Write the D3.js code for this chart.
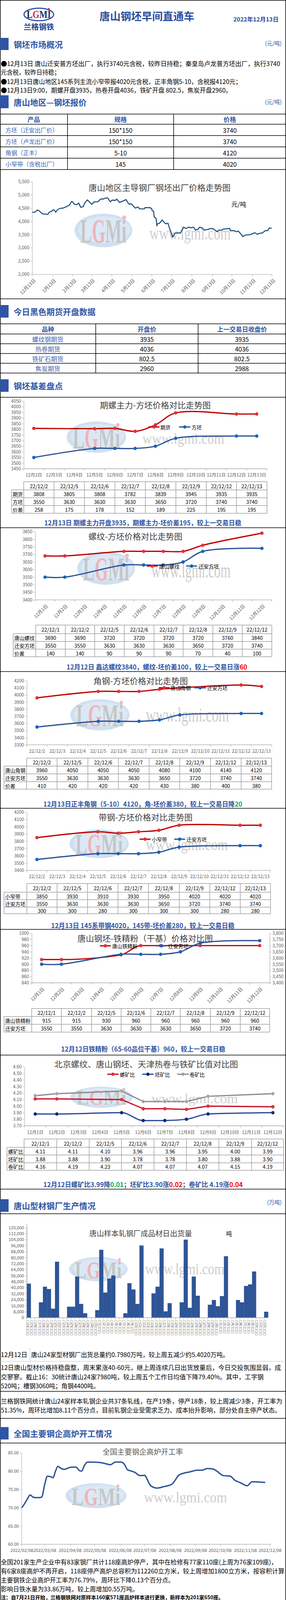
<!DOCTYPE html>
<html><head><meta charset="utf-8">
<script src="https://cdn.jsdelivr.net/npm/d3@7"></script>
<style>body{margin:0;background:#fff}svg{display:block}</style>
</head><body>
<script>
// ================= DATA =================
const reportDate = "2022年12月13日";
const bullets = [
 "●12月13日 唐山迁安普方坯出厂，执行3740元含税，较昨日持稳；秦皇岛卢龙普方坯出厂，执行3740",
 "元含税，较昨日持稳；",
 "●12月13日唐山地区145系列主流小窄带报4020元含税，正丰角钢5-10，含税报4120元；",
 "●12月13日9:00，期螺开盘3935，热卷开盘4036，铁矿开盘 802.5，焦炭开盘2960。"];
const quoteHeader = ["产品","规格","价格"];
const quoteProducts = ["方坯（迁安出厂价）","方坯（卢龙出厂价）","角钢（正丰）","小窄带（含税出厂）"];
const quoteSpecs = ["150*150","150*150","5-10","145"];
const quotePrices = [3740,3740,4120,4020];

const trendTicks = ["2021-12-13","2022-01-13","2022-02-13","2022-03-13","2022-04-13","2022-05-13","2022-06-13","2022-07-13","2022-08-13","2022-09-13","2022-10-13","2022-11-13","2022-12-13"];
const trendDates = [
"2021-12-13","2021-12-17","2021-12-20","2021-12-21","2021-12-24","2021-12-27","2021-12-29",
"2022-01-04","2022-01-06","2022-01-08","2022-01-12","2022-01-14","2022-01-16","2022-01-18","2022-01-21","2022-01-25","2022-01-29",
"2022-02-02","2022-02-08","2022-02-11","2022-02-13","2022-02-15","2022-02-19","2022-02-22","2022-02-25",
"2022-03-01","2022-03-03","2022-03-07","2022-03-10","2022-03-14","2022-03-17","2022-03-23","2022-03-26","2022-03-28",
"2022-04-01","2022-04-03","2022-04-07","2022-04-11","2022-04-14","2022-04-17","2022-04-18","2022-04-21","2022-04-25","2022-04-29",
"2022-05-05","2022-05-08","2022-05-10","2022-05-13","2022-05-19","2022-05-23","2022-05-26",
"2022-06-02","2022-06-03","2022-06-07","2022-06-10","2022-06-13","2022-06-14","2022-06-16","2022-06-17","2022-06-20","2022-06-21","2022-06-22","2022-06-25","2022-06-29",
"2022-07-04","2022-07-08","2022-07-10","2022-07-13","2022-07-15","2022-07-19","2022-07-27","2022-07-30",
"2022-08-01","2022-08-04","2022-08-09","2022-08-12","2022-08-16","2022-08-19","2022-08-23","2022-08-25","2022-08-29",
"2022-09-01","2022-09-07","2022-09-11","2022-09-15","2022-09-21","2022-09-23","2022-09-28","2022-09-30",
"2022-10-10","2022-10-11","2022-10-17","2022-10-20","2022-10-23","2022-10-27","2022-10-30",
"2022-11-01","2022-11-04","2022-11-10","2022-11-14","2022-11-17","2022-11-21","2022-11-25","2022-11-29",
"2022-12-01","2022-12-03","2022-12-07","2022-12-09","2022-12-13"];
const trendVals = [
4340,4345,4400,4430,4390,4320,4280,
4270,4260,4345,4380,4440,4420,4345,4450,4490,4500,
4540,4615,4750,4730,4650,4630,4690,4530,
4555,4690,4810,4740,4640,4730,4740,4810,4845,
4845,4875,4885,4740,4800,4800,4780,4840,4715,4750,
4820,4700,4640,4665,4500,4540,4470,
4470,4520,4515,4520,4485,4395,4380,4170,4100,3830,3910,3925,4050,
3910,3925,3755,3560,3400,3560,3560,3705,
3780,3730,3780,3755,3780,3665,3705,3780,3745,
3665,3695,3730,3715,3605,3665,3665,3705,
3730,3645,3645,3605,3630,3520,3420,
3460,3485,3495,3535,3570,3510,3550,3560,
3605,3645,3655,3745,3740];
const trendYTicks = [2000,2500,3000,3500,4000,4500,5000,5500];

const futHeader = ["品种","开盘价","上一交易日收盘价"];
const futNames = ["螺纹钢期货","热卷期货","铁矿石期货","焦炭期货"];
const futOpen = ["3935","4036","802.5","2960"];
const futPrevClose = ["3935","4036","802.5","2988"];

// chart 2: 期螺主力-方坯
const basisCats = ["12月2日","12月3日","12月4日","12月5日","12月6日","12月7日","12月8日","12月9日","12月10日","12月11日","12月12日","12月13日"];
const basisDates = ["12月2日","12月5日","12月6日","12月7日","12月8日","12月9日","12月12日","12月13日"];
const basisHeader = ["22/12/2","22/12/5","22/12/6","22/12/7","22/12/8","22/12/9","22/12/12","22/12/13"];
const basisFutures = [3808,3805,3808,3782,3839,3945,3935,3935];
const basisBillet = [3550,3630,3630,3630,3650,3720,3740,3740];
const basisSpread = [258,175,178,152,189,225,195,195];
const basisYTicks = [3450,3500,3550,3600,3650,3700,3750,3800,3850,3900,3950,4000,4050];

// chart 3: 螺纹-方坯
const rebarCats = ["12月1日","12月2日","12月3日","12月4日","12月5日","12月6日","12月7日","12月8日","12月9日","12月10日","12月11日","12月12日"];
const rebarDates = ["12月1日","12月2日","12月5日","12月6日","12月7日","12月8日","12月9日","12月12日"];
const rebarHeader = ["22/12/1","22/12/2","22/12/5","22/12/6","22/12/7","22/12/8","22/12/9","22/12/12"];
const rebarVals = [3690,3690,3720,3720,3720,3720,3760,3840];
const rebarBillet = [3550,3550,3630,3630,3630,3650,3720,3740];
const rebarSpread = [140,140,90,90,90,70,40,100];
const rebarYTicks = [3400,3450,3500,3550,3600,3650,3700,3750,3800,3850];

// chart 4: 角钢-方坯
const angleCats = ["22/12/2","22/12/3","22/12/4","22/12/5","22/12/6","22/12/7","22/12/8","22/12/9","22/12/10","22/12/11","22/12/12","22/12/13"];
const angleDates = ["22/12/2","22/12/5","22/12/6","22/12/7","22/12/8","22/12/9","22/12/12","22/12/13"];
const angleVals = [3960,4050,4050,4050,4080,4100,4140,4120];
const angleBillet = [3550,3630,3630,3630,3650,3720,3740,3740];
const angleSpread = [410,420,420,420,430,380,400,380];
const angleYTicks = [3300,3400,3500,3600,3700,3800,3900,4000,4100,4200];

// chart 5: 带钢-方坯
const stripCats = angleCats;
const stripDates = ["22/12/2","22/12/5","22/12/6","22/12/7","22/12/8","22/12/9","22/12/12","22/12/13"];
const stripVals = [3850,3930,3910,3930,3950,4020,4020,4020];
const stripBillet = [3550,3630,3630,3630,3650,3720,3740,3740];
const stripSpread = [300,300,280,300,300,300,280,280];
const stripYTicks = [3400,3500,3600,3700,3800,3900,4000,4100,4200];

// chart 6: 钢坯-铁精粉
const oreCats = rebarCats;
const oreDates = rebarDates;
const oreHeader = rebarHeader;
const oreVals = [915,915,930,960,960,960,960,960];
const oreBillet = [3550,3550,3630,3630,3630,3650,3720,3740];
const oreLeftTicks = [840,860,880,900,920,940,960,980,1000];
const oreRightTicks = [3400,3450,3500,3550,3600,3650,3700,3750,3800];

// chart 7: 比值
const ratioCats = rebarCats;
const ratioDates = rebarDates;
const ratioHeader = rebarHeader;
const ratioRebar = [4.11,4.11,4.10,3.96,3.96,3.95,4.00,3.99];
const ratioBillet = [3.88,3.88,3.90,3.78,3.78,3.80,3.88,3.90];
const ratioCoil = [4.16,4.19,4.23,4.07,4.07,4.07,4.15,4.19];
const ratioYTicks = [3.70,3.80,3.90,4.00,4.10,4.20,4.30,4.40,4.50,4.60];

// chart 8: 日出货量
const shipDates = ["10-14","10-15","10-16","10-17","10-18","10-19","10-20","10-21","10-22","10-23","10-24","10-25","10-26","10-27","10-28","10-29","10-30","10-31",
"11-01","11-02","11-03","11-04","11-05","11-06","11-07","11-08","11-09","11-10","11-11","11-12","11-13","11-14","11-15","11-16","11-17","11-18","11-19","11-20","11-21","11-22","11-23","11-24","11-25","11-26","11-27","11-28","11-29","11-30",
"12-01","12-02","12-03","12-04","12-05","12-06","12-07","12-08","12-09","12-10","12-11","12-12"];
const shipVals = [45400,null,null,20500,41300,38200,12100,74600,null,null,14700,14700,54800,18400,5900,null,null,10100,
90500,33500,52200,56200,null,null,5900,46000,37600,18400,96200,null,null,32400,41300,92300,8500,19400,null,null,20500,104000,13200,54800,29300,null,null,17300,23600,15300,
28800,81900,null,null,23600,20500,42300,44400,61600,null,null,7980];
const shipYTicks = d3.range(0,120001,8000);

// text blocks
const shipRowLabel = "12月12日";
const shipRowText = "唐山24家型材钢厂出货总量约0.7980万吨，较上周五减少约5.4020万吨。";
const shipPara1 = ["12日唐山型材价格持稳盘整，周末累涨40-60元，继上周连续几日出货放量后，今日交投氛围显弱，成",
 "交寥寥。截止16：30统计唐山24家7980吨，较上周五个工作日均值下降79.40%。其中，工字钢",
 "520吨；槽钢3060吨；角钢4400吨。"];
const shipPara2 = ["兰格钢铁网统计唐山24家样本轧钢企业共37条轧线，在产19条，停产18条，较上周减少3条，开工率为",
 "51.35%，周环比增加8.11个百分点，目前轧钢企业受需求乏力、成本抬升影响，部分处自主停产状态。"];

// chart 9: 高炉开工率
const furnaceTicks = ["2022-02-08","2022-03-08","2022-04-08","2022-05-08","2022-06-08","2022-07-08","2022-08-08","2022-09-08","2022-10-08","2022-11-08","2022-12-08"];
const furnaceDates = ["02-08","02-11","02-15","02-18","02-22","02-27","03-04","03-08","03-11","03-15","03-18","03-21","03-24","03-28",
"04-01","04-06","04-10","04-15","04-19","04-22","04-25","04-29","05-04","05-13","05-20","05-27","06-02","06-09","06-13","06-17","06-22","06-26",
"07-02","07-08","07-10","07-13","07-16","07-23","08-01","08-10","08-14","08-18","08-25","09-01","09-10","09-16","09-22","09-29",
"10-04","10-12","10-20","10-26","11-02","11-10","11-16","11-26","12-02"];
const furnaceVals = [70.0,71.0,72.5,73.46,72.86,72.75,72.86,76.48,78.6,78.5,78.2,80.0,81.3,80.7,
80.5,80.9,81.1,81.1,80.2,80.0,81.4,82.46,82.46,82.4,82.1,81.76,82.46,82.5,81.9,80.35,80.0,79.65,
78.77,78.87,78.2,76.8,75.9,75.36,75.8,76.4,77.5,78.77,79.47,79.8,80.25,80.25,80.7,80.6,
80.0,78.77,78.66,77.5,76.8,76.0,77.1,77.0,76.9];
const furnaceYTicks = [60,65,70,75,80,85];
const furnaceText = ["全国201家生产企业中有83家钢厂共计118座高炉停产，其中在检修有77家110座(上周为76家109座)，",
 "有6家8座高炉不再开启，118座停产高炉总容积为112260立方米，较上周增加1800立方米，按容积计算",
 "主要钢铁企业高炉开工率为76.79%，周环比下降0.13个百分点。",
 "影响日铁水量为33.86万吨，较上周增加0.55万吨。"];
const furnaceNote = "注：自7月21日开始，兰格钢铁网对原样本160家571座高炉样本进行更换，新样本为201家650座。";

// chart 10: 成本
const costTickLabels = ["5月11日","5月18日","5月25日","6月1日","6月8日","6月15日","6月22日","6月29日","7月6日","7月13日","7月20日","7月27日","8月3日","8月10日","8月17日","8月24日","8月31日","9月7日","9月14日","9月21日","9月28日","10月5日","10月12日","10月19日","10月26日","11月2日","11月9日","11月16日","11月23日","11月30日","12月7日"];
const costPriceDates = ["05-11","05-13","05-15","05-17","05-19","05-21","05-24","05-25","05-27","05-31","06-02","06-06","06-08","06-09","06-12","06-14","06-15","06-16","06-17","06-19","06-21","06-22","06-23","06-24","06-27","06-29",
"07-01","07-03","07-05","07-06","07-08","07-11","07-12","07-14","07-15","07-16","07-19","07-27","07-28","07-30",
"08-02","08-04","08-05","08-07","08-09","08-10","08-12","08-15","08-16","08-17","08-19","08-22","08-24","08-25","08-29","08-30","08-31",
"09-01","09-02","09-04","09-05","09-08","09-09","09-13","09-15","09-16","09-19","09-20","09-23","09-27","09-28","09-29",
"10-10","10-12","10-14","10-18","10-19","10-20","10-22","10-24","10-26","10-27","10-29","10-31",
"11-02","11-04","11-05","11-08","11-09","11-10","11-12","11-15","11-16","11-18","11-20","11-21","11-23","11-26","11-29","11-30",
"12-02","12-05","12-07"];
const costPriceVals = [4620,4670,4627,4557,4487,4520,4545,4470,4452,4452,4500,4500,4487,4525,4520,4482,4382,4382,4182,4131,4056,3826,3926,3901,3956,4044,
4031,3951,3906,3926,3926,3806,3706,3580,3405,3418,3550,3550,3630,3643,
3756,3768,3706,3718,3786,3726,3781,3776,3793,3731,3661,3693,3756,3776,3756,3718,3701,
3718,3661,3668,3681,3686,3718,3726,3681,3656,3643,3593,3651,3651,3701,3686,
3731,3631,3651,3651,3618,3593,3618,3631,3580,3568,3468,3410,
3443,3450,3480,3475,3493,3468,3505,3518,3560,3560,3510,3493,3530,3550,3580,3550,
3555,3630,3630];
const costAvgDates = ["05-11","05-17","05-24","05-31","06-07","06-14","06-21","06-28","07-05","07-12","07-19","07-26","08-02","08-09","08-16","08-23","08-30","09-06","09-13","09-20","09-27","10-11","10-18","10-25","11-01","11-08","11-15","11-22","11-29","12-05"];
const costAvgVals = [4800,4662,4587,4562,4487,4437,4512,4382,4337,4111,3868,3811,3791,3576,3568,3693,3661,3631,3668,3681,3626,3781,3766,3781,3741,3618,3631,3656,3683,3683];
const costYTicks = d3.range(3300,5101,150);
const costText = ["本周（12月7日）唐山地区样本长流程钢厂，钢坯含税累计成本（调研值，不含三费）均值为3738元，","较上期增加55元。"];

// ================= RENDER =================
const F = "'Noto Sans CJK SC','Noto Sans',sans-serif";
const BLUE = "#2f55a4", TK = "#595959", AX = "#a6a6a6";
const RED = "#c00000", REDM = "#e0313b", BL = "#2f5597", BLM = "#1565c0";
const svg = d3.select("body").append("svg").attr("width",733).attr("height",4505).attr("font-family",F);
const P = d3.timeParse("%Y-%m-%d");
const P22 = s => P("2022-"+s);

function T(x,y,s,o={}){
  const t = svg.append("text").attr("x",x).attr("y",y)
    .attr("font-size",o.size||14).attr("fill",o.fill||"#000")
    .attr("text-anchor",o.anchor||"start").attr("dominant-baseline","central");
  if(o.weight) t.attr("font-weight",o.weight);
  if(o.family) t.attr("font-family",o.family);
  if(o.len) t.attr("textLength",o.len).attr("lengthAdjust","spacingAndGlyphs");
  if(Array.isArray(s)) s.forEach(p=>t.append("tspan").text(p[0]).attr("fill",p[1]||null));
  else t.text(s);
  return t;
}
function Ln(x1,y1,x2,y2,c="#000",w=1.5){
  return svg.append("line").attr("x1",x1).attr("y1",y1).attr("x2",x2).attr("y2",y2).attr("stroke",c).attr("stroke-width",w);
}
function styleAxis(g){
  g.attr("font-size",11.5).attr("font-family",F);
  g.selectAll("path,line").attr("stroke",AX);
  g.selectAll("text").attr("fill",TK);
}
function watermark(w){
  const g = svg.append("g");
  g.append("ellipse").attr("cx",w.cx).attr("cy",w.cy).attr("rx",w.rx).attr("ry",w.ry).attr("fill","#cfe0f1");
  g.append("ellipse").attr("cx",w.cx+3).attr("cy",w.cy-2).attr("rx",w.rx*0.9).attr("ry",w.ry*0.8).attr("fill","#dbe8f5");
  const t = g.append("text").attr("x",w.cx).attr("y",w.cy+w.ry*0.05).attr("text-anchor","middle").attr("dominant-baseline","central")
    .attr("font-family","'Liberation Serif',serif").attr("font-weight","bold").attr("font-size",w.ry*2.0)
    .attr("textLength",w.rx*1.6).attr("lengthAdjust","spacingAndGlyphs");
  [["L","#c6c6c6"],["G","#f0b4b8"],["M","#c6c6c6"],["i","#c6c6c6"]].forEach(p=>t.append("tspan").text(p[0]).attr("fill",p[1]));
  g.append("circle").attr("cx",w.cx+w.rx*0.72).attr("cy",w.cy-w.ry*0.78).attr("r",Math.max(3,w.ry*0.12)).attr("fill","#f3b9bd");
  g.append("text").attr("x",w.tx1).attr("y",w.ty).attr("dominant-baseline","central")
    .attr("font-family","'Liberation Serif',serif").attr("font-size",34).attr("fill","#cdcdcd")
    .attr("textLength",w.tx2-w.tx1).attr("lengthAdjust","spacingAndGlyphs")
    .attr("transform",`translate(0,${w.ty}) scale(1,${w.sy}) translate(0,${-w.ty})`).text("www.lgmi.com");
}
function section(y0,y1,title,unit,unitY,bar=true){
  if(bar) svg.append("rect").attr("x",0).attr("y",y0).attr("width",22).attr("height",y1-y0).attr("fill",BLUE);
  T(35,(y0+y1)/2,title,{size:21,weight:"bold",fill:BLUE});
  if(unit) T(722,unitY,unit,{size:14,fill:BLUE,anchor:"end"});
}
function caption(cx,y,parts,len){ T(cx,y,parts,{size:17,weight:"bold",fill:BLUE,anchor:"middle",len:len}); }
function dataTable(xs,ys,header,rows,labels){
  const c="#a0a0a0", last=xs[xs.length-1];
  Ln(xs[1],ys[0],last,ys[0],c);
  for(let i=1;i<ys.length;i++) Ln(xs[0],ys[i],last,ys[i],c);
  Ln(xs[0],ys[1],xs[0],ys[ys.length-1],c);
  for(let j=1;j<xs.length;j++) Ln(xs[j],ys[0],xs[j],ys[ys.length-1],c);
  header.forEach((h,j)=>T((xs[j+1]+xs[j+2])/2,(ys[0]+ys[1])/2+0.5,h,{size:13,anchor:"middle"}));
  rows.forEach((r,i)=>{
    const yc=(ys[i+1]+ys[i+2])/2+0.5;
    T(xs[0]+3,yc,labels[i],{size:13});
    r.forEach((v,j)=>T((xs[j+1]+xs[j+2])/2,yc,String(v),{size:13,anchor:"middle"}));
  });
}
function legend(items,y){
  items.forEach(it=>{
    Ln(it.x1,y,it.x2,y,it.color,3.2);
    svg.append("circle").attr("cx",(it.x1+it.x2)/2).attr("cy",y).attr("r",4.3).attr("fill",it.m);
    T(it.tx,y,it.label,{size:13});
  });
}
function bandChart(c){
  const x = d3.scaleBand().domain(c.cats).range([c.x0,c.x1]).padding(0);
  const y = d3.scaleLinear().domain(c.yDom).range([c.yB,c.yT]);
  if(c.wm) watermark(c.wm);
  const ya = svg.append("g").attr("transform",`translate(${c.x0},0)`)
    .call(d3.axisLeft(y).tickValues(c.yTicks).tickSize(4).tickSizeOuter(0).tickFormat(c.fmt||d3.format("d")));
  styleAxis(ya);
  Ln(c.x0,c.yB,c.x1,c.yB,AX,1.3);
  c.cats.forEach(d=>Ln(x(d),c.yB,x(d),c.yB+5,AX,1));
  Ln(c.x1,c.yB,c.x1,c.yB+5,AX,1);
  const bw = x.bandwidth();
  c.cats.forEach(d=>{
    const cx = x(d)+bw/2;
    if(c.rot) T(0,0,d,{size:12,fill:TK,anchor:"end"}).attr("transform",`translate(${cx+4},${c.yB+13}) rotate(-45)`);
    else T(cx,c.labelY,d,{size:11.5,fill:TK,anchor:"middle"});
  });
  c.series.forEach(s=>{
    const yy = s.y||y;
    const pts = s.dates.map((d,i)=>[x(d)+bw/2,yy(s.vals[i])]);
    svg.append("path").attr("d",d3.line().curve(s.curve||d3.curveCatmullRom.alpha(0.5))(pts))
      .attr("fill","none").attr("stroke",s.color).attr("stroke-width",3.2).attr("stroke-linejoin","round");
    pts.forEach(p=>svg.append("circle").attr("cx",p[0]).attr("cy",p[1]).attr("r",4.3).attr("fill",s.m).attr("stroke",s.ms||"none").attr("stroke-width",1));
  });
  return {x,y};
}

// ---- page frame ----
svg.append("rect").attr("x",0.75).attr("y",0.75).attr("width",731.5).attr("height",4503).attr("fill","none").attr("stroke","#000").attr("stroke-width",1.5);

// ---- header ----
svg.append("ellipse").attr("cx",99.5).attr("cy",37).attr("rx",38).attr("ry",16).attr("fill","none").attr("stroke","#2a55a5").attr("stroke-width",3);
(function(){
  const t = svg.append("text").attr("x",99.5).attr("y",37).attr("text-anchor","middle").attr("dominant-baseline","central")
    .attr("font-family","'Liberation Serif',serif").attr("font-weight","bold").attr("font-size",27).attr("textLength",62).attr("lengthAdjust","spacingAndGlyphs");
  [["L","#222"],["G","#d42a2a"],["M","#1d2f6f"],["I","#1d2f6f"]].forEach(p=>t.append("tspan").text(p[0]).attr("fill",p[1]));
  svg.append("circle").attr("cx",125).attr("cy",23).attr("r",2.5).attr("fill","#d42a2a");
})();
T(99.5,67,"兰格钢铁",{size:19,weight:"bold",fill:"#1d3f8f",anchor:"middle",len:78});
T(376.5,40,"唐山钢坯早间直通车",{size:27,weight:"bold",fill:"#2b4c9b",anchor:"middle",len:243});
T(714,48,reportDate,{size:15,weight:"bold",fill:"#2b4c9b",anchor:"end",len:116});

// ---- section 1 ----
section(97,128,"钢坯市场概况","(元/吨)",110);
[[161.7,716],[184,152],[207.5,617],[230,592]].forEach((p,i)=>T(2,p[0],bullets[i],{size:16,len:p[1]}));

// ---- section 2: quote table ----
section(244,277,"唐山地区—钢坯报价","(元/吨)",260);
(function(){
  const ys=[292,318,347,376,405,434], xs=[0,173,445,733];
  ys.forEach(y=>Ln(0,y,733,y));
  [173,445].forEach(x=>Ln(x,292,x,434));
  quoteHeader.forEach((h,j)=>T((xs[j]+xs[j+1])/2,305,h,{size:16,weight:"bold",fill:BLUE,anchor:"middle"}));
  quoteProducts.forEach((p,i)=>{
    const yc=(ys[i+1]+ys[i+2])/2;
    T(14,yc,p,{size:15,fill:"#3a5fae"});
    T(309,yc,quoteSpecs[i],{size:16,anchor:"middle"});
    T(589,yc,String(quotePrices[i]),{size:16,anchor:"middle"});
  });
})();

// ---- chart 1: trend ----
(function(){
  watermark({cx:265,cy:590,rx:74,ry:43,tx1:383,tx2:591,ty:597,sy:1.4});
  const x = d3.scaleTime().domain([P(trendTicks[0]),P(trendTicks[trendTicks.length-1])]).range([82.3,696.5]);
  const y = d3.scaleLinear().domain([2000,5500]).range([702,465]);
  const ya = svg.append("g").attr("transform","translate(82.3,0)").call(d3.axisLeft(y).tickValues(trendYTicks).tickSize(4).tickSizeOuter(0));
  styleAxis(ya);
  const xa = svg.append("g").attr("transform","translate(0,702)").call(d3.axisBottom(x).tickValues(trendTicks.map(P)).tickSize(5).tickSizeOuter(0).tickFormat(""));
  styleAxis(xa);
  trendTicks.forEach(s=>{ const d=P(s); T(0,0,`${d.getMonth()+1}月${d.getDate()}日`,{size:12,fill:TK,anchor:"end"}).attr("transform",`translate(${x(d)+6},${715}) rotate(-45)`); });
  svg.append("path").attr("d",d3.line().x((d,i)=>x(P(d))).y((d,i)=>y(trendVals[i]))(trendDates))
    .attr("fill","none").attr("stroke","#1f4e79").attr("stroke-width",2.6).attr("stroke-linejoin","round");
  T(409,479,"唐山地区主导钢厂钢坯出厂价格走势图",{size:21,fill:"#3f3f3f",anchor:"middle",len:364});
  T(612,522,"元/吨",{size:16,anchor:"middle"});
})();
Ln(0,765,733,765);

// ---- section 3: futures ----
section(781,813,"今日黑色期货开盘数据");
(function(){
  const ys=[829,855,880,905,930,955], xs=[0,245.4,507.7,733];
  ys.forEach(y=>Ln(0,y,733,y));
  [245.4,507.7].forEach(x=>Ln(x,829,x,955));
  futHeader.forEach((h,j)=>T((xs[j]+xs[j+1])/2,842,h,{size:16,weight:"bold",fill:BLUE,anchor:"middle"}));
  futNames.forEach((n,i)=>{
    const yc=(ys[i+1]+ys[i+2])/2;
    T(122.5,yc,n,{size:16,fill:"#3a5fae",anchor:"middle"});
    T(376.5,yc,futOpen[i],{size:16,anchor:"middle"});
    T(620,yc,futPrevClose[i],{size:16,anchor:"middle"});
  });
})();

// ---- section 4: basis ----
section(971,1003,"钢坯基差盘点");
Ln(0,1017,733,1017);
bandChart({cats:basisCats,x0:60.8,x1:684,yB:1200,yT:1026.7,yDom:[3450,4050],yTicks:basisYTicks,labelY:1215,
  wm:{cx:247,cy:1119,rx:76,ry:40,tx1:365,tx2:575,ty:1123,sy:1.1},
  series:[{dates:basisDates,vals:basisFutures,color:RED,m:REDM},{dates:basisDates,vals:basisBillet,color:BL,m:BLM}]});
legend([{x1:380,x2:409,color:RED,m:REDM,tx:411,label:"期货"},{x1:459,x2:488,color:BL,m:BLM,tx:491,label:"方坯"}],1093);
T(398,1036,"期螺主力-方坯价格对比走势图",{size:21,fill:"#3f3f3f",anchor:"middle",len:284});
dataTable([29.5,60.8,138.4,216.4,294.5,372.6,450.7,528.7,606.3,684.4],[1233.3,1254.3,1274.3,1294.3,1314],basisHeader,[basisFutures,basisBillet,basisSpread],["期货","方坯","价差"]);
caption(366,1337,[["12月13日 期螺主力开盘3935，期螺主力-坯价差195，较上一交易日稳"]],505);
Ln(0,1351,733,1351);

// ---- chart 3 rebar ----
bandChart({cats:rebarCats,x0:90.2,x1:696.5,yB:1535.7,yT:1361,yDom:[3400,3850],yTicks:rebarYTicks,rot:true,
  wm:{cx:272,cy:1455,rx:74,ry:42,tx1:388,tx2:591,ty:1460,sy:1.6},
  series:[{dates:rebarDates,vals:rebarVals,color:RED,m:REDM},{dates:rebarDates,vals:rebarBillet,color:BL,m:BLM}]});
legend([{x1:376,x2:404,color:RED,m:REDM,tx:408,label:"唐山螺纹"},{x1:477,x2:505,color:BL,m:BLM,tx:509,label:"迁安方坯"}],1449);
T(347,1372,"螺纹-方坯价格对比走势图",{size:21,fill:"#3f3f3f",anchor:"middle",len:241});
dataTable([33.7,91.6,167.4,242.6,318.4,394.6,469.4,545.6,620.8,696.6],[1600.3,1622.3,1642.3,1661.7,1681.3],rebarHeader,[rebarVals,rebarBillet,rebarSpread],["唐山螺纹","迁安方坯","价差"]);
caption(402,1706,[["12月12日 鑫达螺纹3840，螺纹-坯价差100，较上一交易日涨"],["60","#ff0000"]],463);
Ln(0,1719.3,733,1719.3);

// ---- chart 4 angle ----
bandChart({cats:angleCats,x0:68.7,x1:696.5,yB:1906.7,yT:1742.7,yDom:[3300,4200],yTicks:angleYTicks,labelY:1922,
  wm:{cx:256,cy:1830,rx:76,ry:40,tx1:374,tx2:587,ty:1830,sy:1.47},
  series:[{dates:angleDates,vals:angleVals,color:RED,m:REDM},{dates:angleDates,vals:angleBillet,color:BL,m:BLM}]});
legend([{x1:407,x2:435,color:RED,m:REDM,tx:437,label:"唐山角钢"},{x1:498,x2:528,color:BL,m:BLM,tx:531,label:"迁安方坯"}],1760.7);
T(360.5,1742,"角钢-方坯价格对比走势图",{size:21,fill:"#3f3f3f",anchor:"middle",len:242});
dataTable([10.3,68.3,146.3,225.3,303.4,382.4,460.5,539.5,618,696.1],[1940.7,1961.3,1981.3,2001.3,2020.3],angleDates,[angleVals,angleBillet,angleSpread],["唐山角钢","迁安方坯","价差"]);
caption(366,2056.7,[["12月13日正丰角钢（5-10）4120，角-坯价差380，较上一交易日降"],["20","#00b050"]],510);
Ln(0,2069.3,733,2069.3);

// ---- chart 5 strip ----
bandChart({cats:stripCats,x0:68.7,x1:693.3,yB:2228.3,yT:2079,yDom:[3400,4200],yTicks:stripYTicks,labelY:2243.3,
  wm:{cx:254,cy:2160,rx:76,ry:37,tx1:374,tx2:584,ty:2162,sy:1.25},
  series:[{dates:stripDates,vals:stripVals,color:RED,m:REDM},{dates:stripDates,vals:stripBillet,color:BL,m:BLM}]});
legend([{x1:357.6,x2:385.7,color:RED,m:REDM,tx:389,label:"小窄带"},{x1:446.5,x2:474.5,color:BL,m:BLM,tx:478,label:"迁安方坯"}],2148.3);
T(373,2091,"带钢-方坯价格对比走势图",{size:21,fill:"#3f3f3f",anchor:"middle",len:241});
dataTable([10.3,68.7,146.3,224.4,302.5,380.5,459.5,537.6,615.7,693.3],[2261.7,2284,2303.3,2322.3,2339.3],stripDates,[stripVals,stripBillet,stripSpread],["小窄带","迁安方坯",""]);
caption(366,2368.3,[["12月13日 145系带钢4020，145带-坯价差280，较上一交易日稳"]],470);
Ln(0,2379.3,733,2379.3);

// ---- chart 6 ore ----
(function(){
  const yR = d3.scaleLinear().domain([3400,3800]).range([2516,2389]);
  const r = bandChart({cats:oreCats,x0:81.3,x1:691,yB:2516,yT:2389,yDom:[840,1000],yTicks:oreLeftTicks,rot:true,
    series:[{dates:oreDates,vals:oreVals,color:RED,m:REDM,curve:d3.curveMonotoneX},{dates:oreDates,vals:oreBillet,color:BL,m:BLM,y:yR}]});
  const ra = svg.append("g").attr("transform","translate(691,0)").call(d3.axisRight(yR).tickValues(oreRightTicks).tickSize(4).tickSizeOuter(0));
  styleAxis(ra);
})();
legend([{x1:256,x2:284,color:RED,m:REDM,tx:287.5,label:"唐山铁精粉"},{x1:400,x2:428,color:BL,m:BLM,tx:431,label:"迁安方坯"}],2421.3);
T(372,2400.7,"唐山钢坯-铁精粉（干基）价格对比图",{size:21,fill:"#3f3f3f",anchor:"middle",len:347});
dataTable([10.3,81.3,157.5,234.7,310.4,386.6,462.3,539.5,615.7,691],[2581.7,2602.3,2622.3,2642.3],oreHeader,[oreVals,oreBillet],["唐山铁精粉","迁安方坯"]);
caption(367,2684,[["12月12日铁精粉（65-60品位干基）960，较上一交易日稳"]],421);
Ln(0,2701,733,2701);

// ---- chart 7 ratio ----
bandChart({cats:ratioCats,x0:62.6,x1:727,yB:2882,yT:2731,yDom:[3.7,4.6],yTicks:ratioYTicks,fmt:d3.format(".2f"),labelY:2897.7,
  wm:{cx:260,cy:2809,rx:80,ry:27,tx1:388,tx2:610,ty:2812,sy:1.0},
  series:[{dates:ratioDates,vals:ratioCoil,color:"#8c8c8c",m:"#a3a3a3",ms:"#d8d8d8",curve:d3.curveLinear},
          {dates:ratioDates,vals:ratioRebar,color:"#c8102e",m:REDM,curve:d3.curveLinear},
          {dates:ratioDates,vals:ratioBillet,color:"#2f4f9a",m:"#0d2b7a",curve:d3.curveMonotoneX}]});
legend([{x1:275,x2:304,color:"#c8102e",m:REDM,tx:307,label:"螺矿比"},{x1:364.6,x2:393.6,color:"#2f4f9a",m:"#0d2b7a",tx:397,label:"坯矿比"},{x1:454,x2:484,color:"#8c8c8c",m:"#a3a3a3",tx:486,label:"卷矿比"}],2750);
T(374.5,2723.3,"北京螺纹、唐山钢坯、天津热卷与铁矿比值对比图",{size:21,fill:"#3f3f3f",anchor:"middle",len:471});
dataTable([17.8,61.7,145.4,228.6,311.3,394.6,477.8,561,644.7,727],[2915.7,2937.3,2956.7,2976.7,2996],ratioHeader,
  [ratioRebar.map(d3.format(".2f")),ratioBillet.map(d3.format(".2f")),ratioCoil.map(d3.format(".2f"))],["螺矿比","坯矿比","卷矿比"]);
caption(366.6,3030.7,[["12月12日螺矿比3.99降"],["0.01","#00b050"],["；坯矿比3.90涨"],["0.02","#ff0000"],["；卷矿比 4.19涨"],["0.04","#ff0000"]],511);
Ln(0,3044.3,733,3044.3);

// ---- section 5: shipments ----
section(3070,3102.3,"唐山型材钢厂生产情况","(万吨)",3077);
Ln(0,3107.3,733,3107.3);
(function(){
  watermark({cx:252,cy:3249,rx:75,ry:31,tx1:372,tx2:575,ty:3248,sy:1.2});
  const x = d3.scaleBand().domain(shipDates).range([68.7,687.2]).padding(0);
  const y = d3.scaleLinear().domain([0,120000]).range([3373.3,3142.7]);
  const ya = svg.append("g").attr("transform","translate(68.7,0)").call(d3.axisLeft(y).tickValues(shipYTicks).tickSize(4).tickSizeOuter(0));
  styleAxis(ya); ya.attr("font-size",11);
  Ln(68.7,3133,68.7,3373.3,AX,1.3);
  svg.append("g").selectAll("rect").data(shipDates.map((d,i)=>({d,v:shipVals[i]})).filter(o=>o.v!=null)).join("rect")
    .attr("x",o=>x(o.d)).attr("width",x.bandwidth()+0.3).attr("y",o=>y(o.v)).attr("height",o=>y(0)-y(o.v)).attr("fill","#2f5597");
  Ln(68.7,3373.3,687.2,3373.3,AX,1.3);
  shipDates.forEach(d=>Ln(x(d),3373.3,x(d),3378,AX,1));
  shipDates.forEach(d=>{
    const day = +d.split("-")[1];
    T(0,0,"□"+day+"□□□",{size:8.5,fill:TK,family:"'DejaVu Sans Condensed','DejaVu Sans',sans-serif"})
      .attr("transform",`translate(${x(d)+x.bandwidth()/2-3},3380) rotate(90)`);
  });
  T(360.5,3156.7,"唐山样本轧钢厂成品材日出货量",{size:19,fill:"#3f3f3f",anchor:"middle",len:263});
  T(587,3157,"吨",{size:15,anchor:"middle"});
})();
T(2,3466.7,shipRowLabel,{size:16,len:68});
Ln(77,3450,77,3485,"#c8ccd6",1.2);
T(79.5,3466.7,shipRowText,{size:16,len:507});
Ln(0,3485,733,3485,"#b4bccc",1.2);
[[3500,718],[3524,673.5],[3546.7,253]].forEach((p,i)=>T(2,p[0],shipPara1[i],{size:16,len:p[1]}));
Ln(0,3561.7,733,3561.7);
[[3585.7,721.7],[3609,718]].forEach((p,i)=>T(2,p[0],shipPara2[i],{size:16,len:p[1]}));
Ln(0,3631,733,3631);

// ---- section 6: furnace ----
section(3653.3,3685,"全国主要钢企高炉开工情况");
Ln(0,3694.3,733,3694.3);
(function(){
  watermark({cx:246,cy:3829,rx:78,ry:32,tx1:369,tx2:582,ty:3833,sy:1.1});
  const x = d3.scaleTime().domain([P(furnaceTicks[0]),P(furnaceTicks[furnaceTicks.length-1])]).range([56.1,692.3]);
  const y = d3.scaleLinear().domain([60,85]).range([3953.3,3719.3]);
  const ya = svg.append("g").attr("transform","translate(55.2,0)").call(d3.axisLeft(y).tickValues(furnaceYTicks).tickSize(4).tickSizeOuter(0).tickFormat(d3.format(".2f")));
  styleAxis(ya); ya.attr("font-size",11);
  Ln(55.2,3953.3,694.2,3953.3,AX,1.3);
  furnaceTicks.forEach(s=>{ const xx=x(P(s)); Ln(xx,3953.3,xx,3958,AX,1); T(xx,3967.7,s.replace(/-/g,"/"),{size:11.2,fill:TK,anchor:"middle"}); });
  svg.append("path").attr("d",d3.line().curve(d3.curveMonotoneX).x(d=>x(P22(d))).y((d,i)=>y(furnaceVals[i]))(furnaceDates))
    .attr("fill","none").attr("stroke","#2f5597").attr("stroke-width",3.5).attr("stroke-linejoin","round");
  T(366,3715.7,"全国主要钢企高炉开工率",{size:19,fill:"#595959",anchor:"middle",len:206});
})();
[[3998.3,708.6],[4020.7,727],[4044,444.5],[4066.7,353]].forEach((p,i)=>T(2,p[0],furnaceText[i],{size:16,len:p[1]}));
T(2,4088.3,furnaceNote,{size:13,weight:"bold",len:570.7});
Ln(0,4098.3,733,4098.3);

// ---- section 7: cost ----
section(4098.3,4131.7,"唐山钢坯成本","(元/吨)",4113,false);
Ln(0,4131.7,733,4131.7);
(function(){
  watermark({cx:248,cy:4273,rx:77,ry:54,tx1:369,tx2:580,ty:4277,sy:1.9});
  const tickDates = costTickLabels.map(s=>{ const m=s.match(/(\d+)月(\d+)日/); return new Date(2022,+m[1]-1,+m[2]); });
  const x = d3.scaleTime().domain([tickDates[0],tickDates[tickDates.length-1]]).range([63.1,685.8]);
  const y = d3.scaleLinear().domain([3300,5100]).range([4387.3,4148.8]);
  const ya = svg.append("g").attr("transform","translate(62.2,0)").call(d3.axisLeft(y).tickValues(costYTicks).tickSize(4).tickSizeOuter(0));
  styleAxis(ya); ya.attr("font-size",11.5);
  Ln(62.2,4387.3,686.3,4387.3,AX,1.3);
  tickDates.forEach((d,i)=>{ const xx=x(d); Ln(xx,4387.3,xx,4392,AX,1);
    T(0,0,costTickLabels[i],{size:11,fill:TK,anchor:"end"}).attr("transform",`translate(${xx},4396) rotate(-90)`); });
  svg.append("path").attr("d",d3.line().curve(d3.curveStepAfter).x(d=>x(P22(d))).y((d,i)=>y(costAvgVals[i]))(costAvgDates))
    .attr("fill","none").attr("stroke","#2f5597").attr("stroke-width",3.2);
  svg.append("path").attr("d",d3.line().x(d=>x(P22(d))).y((d,i)=>y(costPriceVals[i]))(costPriceDates))
    .attr("fill","none").attr("stroke",RED).attr("stroke-width",2.8).attr("stroke-linejoin","round");
  T(364,4151.7,"钢坯出厂价与钢坯生产成本均价走势对比图",{size:19,fill:"#595959",anchor:"middle",len:356});
  svg.append("rect").attr("x",254.8).attr("y",4175).attr("width",28).attr("height",4.5).attr("fill",RED);
  T(286,4177,"迁安方坯",{size:12,fill:"#404040"});
  svg.append("rect").attr("x",383).attr("y",4175).attr("width",28).attr("height",4.5).attr("fill","#2f5597");
  T(413.7,4177,"钢坯成本均价",{size:12,fill:"#404040"});
})();
T(2,4467.3,costText[0],{size:16,len:718});
T(2,4491.7,costText[1],{size:16,len:122});
</script>
</body></html>
